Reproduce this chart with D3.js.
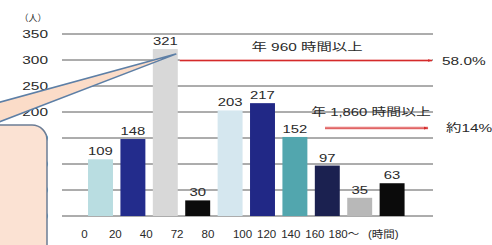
<!DOCTYPE html>
<html lang="ja">
	<head>
		<meta charset="utf-8">
		<title>hours chart</title>
		<script type="text/javascript" src="https://cdn.jsdelivr.net/npm/d3@7/dist/d3.min.js"></script>
		<style type="text/css">
			body { margin: 0; background: #fff; }
			text { font-family: "Liberation Sans", Arial, "Noto Sans CJK JP", sans-serif; fill: #2a2a2a; }
		</style>
	</head>
	<body>
		<script type="text/javascript">

			var width = 492;
			var height = 245;

			// data
			var categories = ["0-20", "20-40", "40-72", "72-80", "80-100", "100-120", "120-140", "140-160", "160-180", "180-"];
			var values = [109, 148, 321, 30, 203, 217, 152, 97, 35, 63];
			var colors = ["#b9dde1", "#232c8c", "#d8d8d8", "#0b0b0b", "#d5e7ef", "#212886", "#52a6ae", "#1b2150", "#b8b8b8", "#0b0b0b"];
			var xTickLabels = ["0", "20", "40", "72", "80", "100", "120", "140", "160", "180〜"];
			var yTicks = [0, 50, 100, 150, 200, 250, 300, 350];
			var notes = ["年 960 時間以上", "年 1,860 時間以上"];
			var noteLevels = [300, 170];
			var notePercents = ["58.0%", "約14%"];

			var svg = d3.select("body")
						.append("svg")
						.attr("width", width)
						.attr("height", height);

			var yScale = d3.scaleLinear()
					.domain([0, 350])
					.range([216, 34]);

			var xScale = d3.scaleBand()
					.domain(d3.range(categories.length))
					.range([84.3, 408.3])
					.paddingInner(0.23)
					.paddingOuter(0.115);

			// tick text was typed as one line, so it drifts from the bar edges
			var tickPos = d3.scaleLinear()
					.domain([0, 4, 5, 9])
					.range([84.5, 208, 242.5, 339]);

			function stretched(g, x, y, s, txt, size, anchor) {
				return g.append("text")
					.attr("transform", "translate(" + x + "," + y + ") scale(" + s + ",1)")
					.attr("text-anchor", anchor || "middle")
					.attr("font-size", size)
					.text(txt);
			}

			// y labels
			var yl = svg.append("g");
			yTicks.forEach(function(t){
				stretched(yl, 48, yScale(t) + 4, 1.4, t, 11, "end");
			});
			stretched(yl, 33, 21, 1, "（人）", 9, "middle");

			// grid
			svg.append("g").selectAll("line").data(yTicks).enter()
				.append("line")
				.attr("x1", 62).attr("x2", 433)
				.attr("y1", function(d){ return yScale(d); })
				.attr("y2", function(d){ return yScale(d); })
				.attr("stroke", "#5a5a5a")
				.attr("stroke-width", 1);

			// bars
			svg.append("g").selectAll("rect").data(values).enter()
				.append("rect")
				.attr("x", function(d, i){ return xScale(i); })
				.attr("y", function(d){ return yScale(d); })
				.attr("width", xScale.bandwidth())
				.attr("height", function(d){ return yScale(0) - yScale(d); })
				.attr("fill", function(d, i){ return colors[i]; });

			// value labels
			var vl = svg.append("g");
			values.forEach(function(v, i){
				stretched(vl, xScale(i) + xScale.bandwidth() / 2, yScale(v) - 4, 1.35, v, 11, "middle");
			});

			// x labels
			var xl = svg.append("g");
			xTickLabels.forEach(function(t, i){
				stretched(xl, tickPos(i), 238, 1.05, t, 11, t.indexOf("〜") > 0 ? "start" : "middle").attr("x", t.indexOf("〜") > 0 ? -10 : 0);
			});
			stretched(xl, 368, 238, 1.15, "(時間)", 10, "start");

			// red threshold lines
			var defs = svg.append("defs");
			defs.append("marker")
				.attr("id", "arr")
				.attr("viewBox", "0 0 10 10")
				.attr("refX", 9).attr("refY", 5)
				.attr("markerWidth", 5).attr("markerHeight", 5)
				.attr("orient", "auto")
				.append("path")
				.attr("d", "M0,2L10,5L0,8z")
				.attr("fill", "#d42a2a");

			var starts = [xScale(2) + xScale.bandwidth() + 2, 325];
			var ends = [432, 428];
			var rl = svg.append("g");
			noteLevels.forEach(function(lv, i){
				rl.append("line")
					.attr("x1", starts[i]).attr("x2", ends[i])
					.attr("y1", yScale(lv) + 0.5).attr("y2", yScale(lv) + 0.5)
					.attr("stroke", "#f3b9b9").attr("stroke-width", 3);
				rl.append("line")
					.attr("x1", starts[i]).attr("x2", ends[i])
					.attr("y1", yScale(lv) + 0.5).attr("y2", yScale(lv) + 0.5)
					.attr("stroke", "#d42a2a").attr("stroke-width", 1)
					.attr("marker-end", "url(#arr)");
				stretched(rl, 442 + i * 4, yScale(lv) + 4.5, 1.4, notePercents[i], 11, "start");
			});
			stretched(rl, 307, 51, 1.4, notes[0], 11, "middle");
			stretched(rl, 371, 116, 1.35, notes[1], 11, "middle");

			// callout bubble at left
			var cb = svg.append("g");
			var tipX = xScale(2) + xScale.bandwidth() * 0.92;
			var tipY = yScale(values[2]) + 5;
			cb.append("path")
				.attr("d", "M-5,103.5L" + tipX + "," + tipY + "L-5,123.5Z")
				.attr("fill", "#fbdcc8")
				.attr("stroke", "#5d7fa6")
				.attr("stroke-width", 1.5)
				.attr("stroke-linejoin", "round");
			cb.append("rect")
				.attr("x", -30).attr("y", 125)
				.attr("width", 77).attr("height", 160)
				.attr("rx", 15).attr("ry", 15)
				.attr("fill", "#fbe2d3")
				.attr("stroke", "#6c7d95")
				.attr("stroke-width", 1.5);

		</script>
	</body>
</html>
